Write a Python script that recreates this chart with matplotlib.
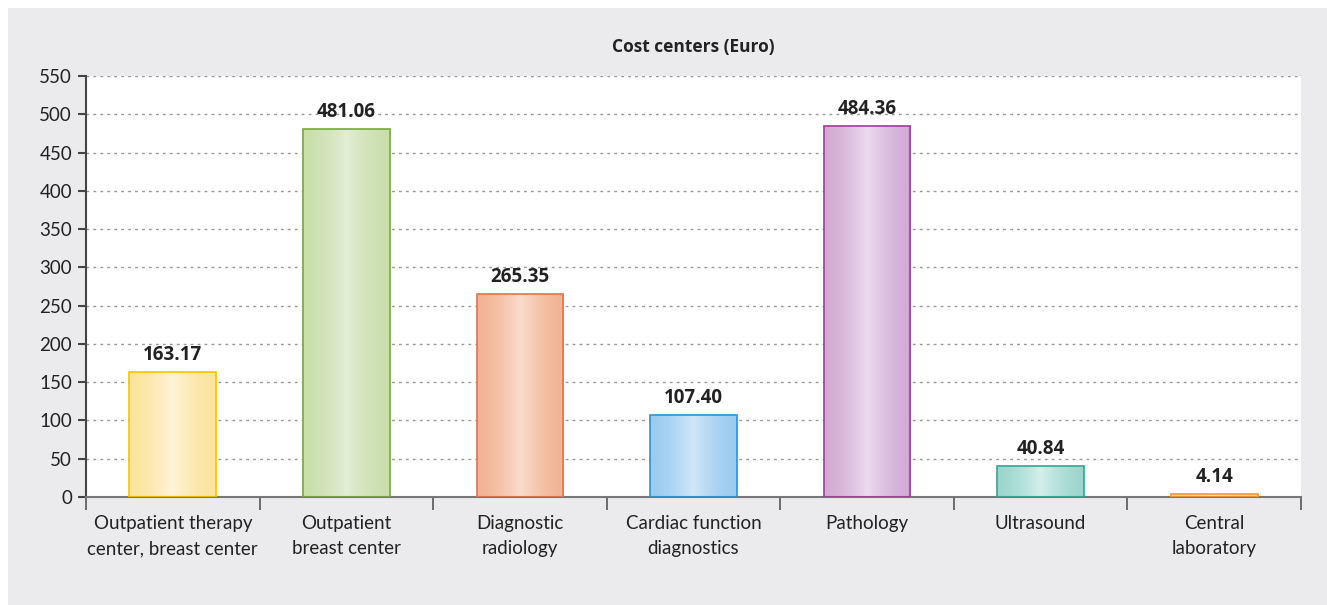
#!/usr/bin/env python3
"""Bar chart of cost centers (Euro) with gradient-filled bars."""

import matplotlib
matplotlib.use("Agg")
import matplotlib.pyplot as plt
import numpy as np
from matplotlib.colors import to_rgb

categories = [
    "Outpatient therapy\ncenter, breast center",
    "Outpatient\nbreast center",
    "Diagnostic\nradiology",
    "Cardiac function\ndiagnostics",
    "Pathology",
    "Ultrasound",
    "Central\nlaboratory",
]
costs = [163.17, 481.06, 265.35, 107.40, 484.36, 40.84, 4.14]
y_ticks = list(range(0, 551, 50))

# (edge colour, outer fill, centre fill) per bar
bar_edges = ["#f5c400", "#78a83a", "#e8714a", "#2696d8", "#9a3d9c", "#33a597", "#f09a30"]
bar_outer = ["#fce49c", "#c9dfac", "#f2b396", "#9ccbef", "#d2abd4", "#9cd6ce", "#fbd3a0"]
bar_inner = ["#fef4d8", "#e2edd6", "#f9dccc", "#d0e7f8", "#ebdbee", "#d4efeb", "#fde8cc"]

plt.rcParams["font.family"] = ["Lato", "DejaVu Sans"]
bold_font = ["Open Sans", "DejaVu Sans"]
text_color = "#222222"

fig = plt.figure(figsize=(13.27, 6.05), dpi=100)
fig.patch.set_facecolor("white")
# grey panel behind everything
fig.patches.append(plt.Rectangle((8 / 1327, 0), 1, 1 - 8 / 605, transform=fig.transFigure,
                                 facecolor="#ebebed", edgecolor="none", zorder=-10))

ax = fig.add_axes([86 / 1327, 1 - 497 / 605, (1301 - 86) / 1327, (497 - 76) / 605])
ax.set_facecolor("white")

x = np.arange(len(categories))
width = 0.5
bars = ax.bar(x, costs, width=width, color="none", zorder=3)

grad_pos = np.linspace(0, 1, 64)
profile = 1 - np.abs(grad_pos - 0.5) * 2  # 0 at edges, 1 at centre
for rect, edge, outer, inner, val in zip(bars, bar_edges, bar_outer, bar_inner, costs):
    c_out = np.array(to_rgb(outer))
    c_in = np.array(to_rgb(inner))
    img = c_out[None, :] + (c_in - c_out)[None, :] * profile[:, None] ** 1.5
    x0 = rect.get_x()
    im = ax.imshow(img[None, :, :], extent=[x0, x0 + rect.get_width(), 0, val],
                   aspect="auto", zorder=2, interpolation="bilinear")
    im.set_clip_path(rect)
    rect.set_edgecolor(edge)
    rect.set_linewidth(1.2)
    ax.text(rect.get_x() + rect.get_width() / 2, val + 9, f"{val:.2f}", family=bold_font,
            ha="center", va="bottom", fontsize=13.5, fontweight="bold", color=text_color, zorder=4)

ax.set_xlim(-0.5, len(categories) - 0.5)
ax.set_ylim(0, 550)
ax.set_yticks(y_ticks)
ax.tick_params(axis="y", labelsize=13.5, colors="#444444", labelcolor=text_color, length=6, width=1.5, pad=4)

# category labels centred, tick marks on boundaries
ax.set_xticks(x)
ax.set_xticklabels(categories, fontsize=13.5, color=text_color, linespacing=1.6)
ax.tick_params(axis="x", length=0, pad=13)
ax.set_xticks(np.arange(len(categories) + 1) - 0.5, minor=True)
ax.tick_params(axis="x", which="minor", length=9, width=1.2, color="#555555", direction="out")

ax.yaxis.grid(True, linestyle=(0, (2, 3)), color="#999999", linewidth=1.0, zorder=0)
ax.set_axisbelow(True)

for side in ["top", "right"]:
    ax.spines[side].set_visible(False)
ax.spines["left"].set_color("#444444")
ax.spines["left"].set_linewidth(1.5)
ax.spines["bottom"].set_color("#777777")
ax.spines["bottom"].set_linewidth(1.5)

fig.text((86 + 1301) / 2 / 1327, 1 - 47 / 605, "Cost centers (Euro)", ha="center", va="center",
         family=bold_font, fontsize=12.5, fontweight="bold", color=text_color)

fig.savefig("out.png", dpi=100)
